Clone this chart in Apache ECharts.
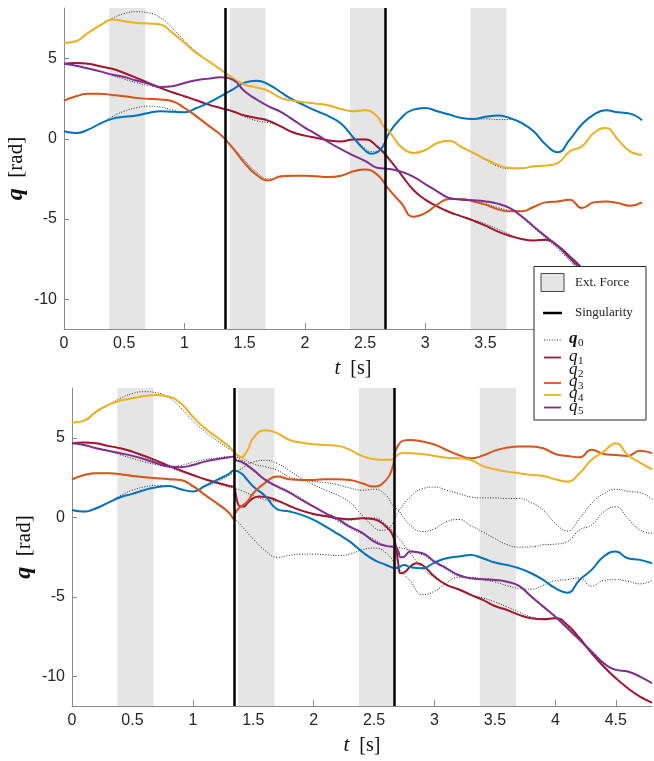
<!DOCTYPE html>
<html><head><meta charset="utf-8">
<script src="https://cdn.jsdelivr.net/npm/echarts@6/dist/echarts.min.js"></script>
<style>html,body{margin:0;padding:0;background:#fff}#c{width:654px;height:761px}</style>
</head><body><div id="c"></div>
<script>
// ---- axes / annotations ----
const xTicks = [0, 0.5, 1, 1.5, 2, 2.5, 3, 3.5, 4, 4.5];
const yTicks = [-10, -5, 0, 5];
const forceBands = [[0.375, 0.675], [1.375, 1.675], [2.375, 2.675], [3.375, 3.675]];
const singularities = [1.34, 2.675];
const jointNames = ['q1', 'q2', 'q3', 'q4', 'q5'];

// ---- reference trajectories q0 (one per joint), shown dotted in both panels ----
const q0_q1 = [[0,4.67],[0.1,4.73],[0.2,4.67],[0.3,4.52],[0.4,4.36],[0.5,4.1],[0.6,3.8],[0.7,3.48],[0.8,3.17],[0.9,2.9],[1.0,2.65],[1.1,2.4],[1.2,2.13],[1.3,1.92],[1.4,1.7],[1.5,1.38],[1.6,1.12],[1.7,1.0],[1.8,0.75],[1.9,0.41],[2.0,0.2],[2.1,0.05],[2.2,-0.1],[2.3,-0.16],[2.4,-0.05],[2.5,-0.02],[2.6,-0.45],[2.7,-1.26],[2.8,-2.23],[2.9,-3.17],[3.0,-3.79],[3.1,-4.21],[3.2,-4.56],[3.3,-4.83],[3.4,-5.05],[3.5,-5.3],[3.6,-5.62],[3.7,-5.95],[3.8,-6.24],[3.9,-6.35],[4.0,-6.31],[4.1,-6.72],[4.2,-7.5],[4.3,-8.45],[4.4,-9.3],[4.5,-10.05],[4.6,-10.7],[4.7,-11.22],[4.8,-11.6]];
const q0_q2 = [[0,0.47],[0.1,0.36],[0.2,0.57],[0.3,0.95],[0.4,1.38],[0.5,1.72],[0.6,1.93],[0.7,2.03],[0.8,1.98],[0.9,1.8],[1.0,1.66],[1.1,1.92],[1.2,2.24],[1.3,2.65],[1.4,3.07],[1.5,3.5],[1.6,3.6],[1.7,3.4],[1.8,2.95],[1.9,2.46],[2.0,2.07],[2.1,1.72],[2.2,1.4],[2.3,0.95],[2.4,0.15],[2.5,-0.6],[2.55,-0.8],[2.6,-0.76],[2.65,-0.42],[2.7,0.36],[2.8,1.3],[2.9,1.82],[3.0,1.92],[3.1,1.72],[3.2,1.51],[3.3,1.3],[3.4,1.24],[3.5,1.24],[3.6,1.2],[3.7,1.2],[3.8,0.95],[3.9,0.47],[4.0,-0.36],[4.1,-0.84],[4.2,-0.05],[4.3,0.89],[4.4,1.51],[4.5,1.78],[4.6,1.65],[4.7,1.57],[4.8,1.16]];
const q0_q3 = [[0,2.38],[0.1,2.65],[0.2,2.8],[0.3,2.8],[0.4,2.73],[0.5,2.65],[0.6,2.55],[0.7,2.49],[0.8,2.45],[0.9,2.34],[1.0,1.92],[1.1,1.4],[1.2,0.82],[1.3,0.26],[1.4,-0.5],[1.5,-1.35],[1.6,-2.08],[1.7,-2.5],[1.8,-2.38],[1.9,-2.3],[2.0,-2.3],[2.1,-2.34],[2.2,-2.38],[2.3,-2.3],[2.4,-2.03],[2.5,-1.92],[2.6,-2.23],[2.7,-3.17],[2.8,-4.0],[2.9,-4.85],[3.0,-4.63],[3.1,-4.1],[3.2,-3.75],[3.3,-3.75],[3.4,-3.9],[3.5,-4.05],[3.6,-4.28],[3.7,-4.45],[3.8,-4.5],[3.9,-4.25],[4.0,-3.96],[4.1,-3.9],[4.2,-3.79],[4.3,-4.31],[4.4,-3.96],[4.5,-3.9],[4.6,-4.0],[4.7,-4.17],[4.8,-3.96]];
const q0_q4 = [[0,5.98],[0.1,6.08],[0.2,6.6],[0.3,7.06],[0.4,7.5],[0.5,7.8],[0.6,7.92],[0.7,7.85],[0.8,7.55],[0.9,6.9],[1.0,6.1],[1.1,5.42],[1.2,4.84],[1.3,4.32],[1.4,3.79],[1.5,3.38],[1.6,3.2],[1.7,2.97],[1.8,2.55],[1.9,2.38],[2.0,2.27],[2.1,2.19],[2.2,2.07],[2.3,1.86],[2.4,1.72],[2.5,1.78],[2.6,1.4],[2.65,0.82],[2.7,0.47],[2.75,-0.05],[2.8,-0.5],[2.9,-0.88],[3.0,-0.7],[3.1,-0.26],[3.2,-0.12],[3.3,-0.51],[3.4,-0.9],[3.5,-1.32],[3.6,-1.7],[3.7,-1.86],[3.8,-1.84],[3.9,-1.71],[4.0,-1.67],[4.1,-1.51],[4.2,-0.78],[4.3,-0.47],[4.4,0.36],[4.5,0.68],[4.6,-0.05],[4.7,-0.78],[4.8,-0.99]];
const q0_q5 = [[0,4.67],[0.1,4.55],[0.2,4.38],[0.3,4.2],[0.4,3.95],[0.5,3.72],[0.6,3.5],[0.7,3.33],[0.8,3.22],[0.9,3.28],[1.0,3.48],[1.1,3.65],[1.2,3.75],[1.3,3.83],[1.4,3.65],[1.5,2.96],[1.6,2.42],[1.7,2.0],[1.8,1.65],[1.9,1.2],[2.0,0.7],[2.1,0.26],[2.2,-0.22],[2.3,-0.65],[2.4,-1.03],[2.5,-1.37],[2.6,-1.8],[2.7,-1.88],[2.8,-2.05],[2.9,-2.35],[3.0,-2.82],[3.1,-3.27],[3.2,-3.69],[3.3,-3.79],[3.4,-3.83],[3.5,-3.9],[3.6,-4.04],[3.7,-4.31],[3.8,-4.9],[3.9,-5.55],[4.0,-6.18],[4.1,-6.85],[4.2,-7.6],[4.3,-8.35],[4.4,-9.1],[4.5,-9.55],[4.6,-9.68],[4.7,-10.0],[4.8,-10.4]];

// ---- top panel: joint trajectories ----
const top_q1 = [[0,4.67],[0.1,4.73],[0.2,4.67],[0.3,4.52],[0.4,4.36],[0.5,4.1],[0.6,3.8],[0.7,3.48],[0.8,3.17],[0.9,2.9],[1.0,2.65],[1.1,2.4],[1.2,2.13],[1.3,1.92],[1.4,1.72],[1.5,1.45],[1.6,1.3],[1.7,1.12],[1.8,0.78],[1.9,0.41],[2.0,0.2],[2.1,0.05],[2.2,-0.1],[2.3,-0.16],[2.4,-0.05],[2.5,-0.05],[2.6,-0.47],[2.7,-1.26],[2.8,-2.23],[2.9,-3.17],[3.0,-3.79],[3.1,-4.21],[3.2,-4.56],[3.3,-4.83],[3.4,-5.1],[3.5,-5.41],[3.6,-5.77],[3.7,-6.04],[3.8,-6.24],[3.9,-6.33],[4.0,-6.29],[4.1,-6.66],[4.2,-7.33],[4.3,-8.06],[4.4,-9.0],[4.5,-9.8],[4.6,-10.5],[4.7,-11.1],[4.8,-11.5]];
const top_q2 = [[0,0.47],[0.1,0.36],[0.2,0.57],[0.3,0.95],[0.4,1.24],[0.5,1.37],[0.6,1.45],[0.7,1.61],[0.8,1.72],[0.9,1.68],[1.0,1.65],[1.1,1.92],[1.2,2.24],[1.3,2.65],[1.4,3.07],[1.5,3.5],[1.6,3.62],[1.7,3.38],[1.8,2.9],[1.9,2.44],[2.0,2.07],[2.1,1.72],[2.2,1.4],[2.3,0.95],[2.4,0.1],[2.5,-0.72],[2.55,-0.93],[2.6,-0.85],[2.65,-0.45],[2.7,0.36],[2.8,1.3],[2.9,1.82],[3.0,1.92],[3.1,1.72],[3.2,1.51],[3.3,1.3],[3.4,1.24],[3.5,1.37],[3.6,1.45],[3.7,1.3],[3.8,0.99],[3.9,0.47],[4.0,-0.36],[4.1,-0.84],[4.2,-0.05],[4.3,0.89],[4.4,1.51],[4.5,1.78],[4.6,1.65],[4.7,1.57],[4.8,1.16]];
const top_q3 = [[0,2.38],[0.1,2.65],[0.2,2.8],[0.3,2.8],[0.4,2.73],[0.5,2.65],[0.6,2.55],[0.7,2.49],[0.8,2.45],[0.9,2.34],[1.0,1.92],[1.1,1.4],[1.2,0.82],[1.3,0.26],[1.4,-0.57],[1.5,-1.51],[1.6,-2.25],[1.7,-2.59],[1.8,-2.34],[1.9,-2.3],[2.0,-2.3],[2.1,-2.34],[2.2,-2.38],[2.3,-2.3],[2.4,-2.03],[2.5,-1.92],[2.6,-2.23],[2.7,-3.17],[2.8,-4.0],[2.9,-4.85],[3.0,-4.63],[3.1,-4.1],[3.2,-3.75],[3.3,-3.75],[3.4,-3.9],[3.5,-4.1],[3.6,-4.38],[3.7,-4.52],[3.8,-4.52],[3.9,-4.25],[4.0,-3.96],[4.1,-3.9],[4.2,-3.79],[4.3,-4.31],[4.4,-3.96],[4.5,-3.9],[4.6,-4.0],[4.7,-4.17],[4.8,-3.96]];
const top_q4 = [[0,5.98],[0.1,6.08],[0.2,6.6],[0.3,7.06],[0.4,7.43],[0.5,7.33],[0.6,7.22],[0.7,7.18],[0.8,7.12],[0.9,6.6],[1.0,5.98],[1.1,5.35],[1.2,4.84],[1.3,4.32],[1.4,3.79],[1.5,3.38],[1.6,3.2],[1.7,2.97],[1.8,2.55],[1.9,2.38],[2.0,2.27],[2.1,2.19],[2.2,2.07],[2.3,1.86],[2.4,1.72],[2.5,1.78],[2.6,1.4],[2.65,0.82],[2.7,0.47],[2.75,-0.05],[2.8,-0.5],[2.9,-0.88],[3.0,-0.7],[3.1,-0.26],[3.2,-0.12],[3.3,-0.51],[3.4,-0.88],[3.5,-1.26],[3.6,-1.61],[3.7,-1.82],[3.8,-1.84],[3.9,-1.71],[4.0,-1.67],[4.1,-1.51],[4.2,-0.78],[4.3,-0.47],[4.4,0.36],[4.5,0.68],[4.6,-0.05],[4.7,-0.78],[4.8,-0.99]];
const top_q5 = [[0,4.67],[0.1,4.55],[0.2,4.38],[0.3,4.2],[0.4,4.0],[0.5,3.85],[0.6,3.63],[0.7,3.44],[0.8,3.23],[0.9,3.28],[1.0,3.48],[1.1,3.65],[1.2,3.75],[1.3,3.83],[1.4,3.69],[1.5,2.96],[1.6,2.45],[1.7,2.02],[1.8,1.68],[1.9,1.2],[2.0,0.7],[2.1,0.26],[2.2,-0.22],[2.3,-0.65],[2.4,-1.03],[2.5,-1.37],[2.6,-1.8],[2.7,-1.88],[2.8,-2.05],[2.9,-2.35],[3.0,-2.82],[3.1,-3.27],[3.2,-3.69],[3.3,-3.79],[3.4,-3.83],[3.5,-3.9],[3.6,-4.04],[3.7,-4.31],[3.8,-4.83],[3.9,-5.46],[4.0,-6.08],[4.1,-6.7],[4.2,-7.43],[4.3,-8.16],[4.4,-8.9],[4.5,-9.4],[4.6,-9.6],[4.7,-9.9],[4.8,-10.3]];

// ---- bottom panel: joint trajectories ----
const bot_q1 = [[0,4.67],[0.1,4.72],[0.2,4.67],[0.3,4.51],[0.4,4.36],[0.5,4.15],[0.6,3.88],[0.7,3.58],[0.8,3.25],[0.9,2.96],[1.0,2.68],[1.1,2.41],[1.2,2.2],[1.3,1.99],[1.34,1.91],[1.355,1.5],[1.37,0.95],[1.39,0.7],[1.42,0.69],[1.45,0.9],[1.5,1.22],[1.55,1.32],[1.6,1.3],[1.7,1.07],[1.8,0.73],[1.9,0.44],[2.0,0.23],[2.1,0.1],[2.2,-0.04],[2.3,-0.1],[2.4,-0.04],[2.5,-0.1],[2.6,-0.57],[2.65,-1.03],[2.68,-1.8],[2.7,-2.9],[2.72,-3.5],[2.75,-3.45],[2.8,-3.08],[2.85,-2.87],[2.9,-2.98],[3.0,-3.71],[3.1,-4.23],[3.2,-4.51],[3.3,-4.86],[3.4,-5.18],[3.5,-5.56],[3.6,-5.81],[3.7,-6.12],[3.8,-6.33],[3.9,-6.39],[4.0,-6.33],[4.1,-6.75],[4.2,-7.59],[4.3,-8.53],[4.4,-9.37],[4.5,-10.1],[4.6,-10.73],[4.7,-11.26],[4.8,-11.64]];
const bot_q2 = [[0,0.48],[0.1,0.38],[0.2,0.59],[0.3,0.94],[0.4,1.28],[0.5,1.49],[0.6,1.74],[0.7,1.91],[0.8,1.99],[0.9,1.78],[1.0,1.64],[1.1,1.99],[1.2,2.37],[1.3,2.75],[1.34,2.96],[1.4,2.79],[1.45,2.37],[1.5,1.95],[1.6,1.35],[1.7,0.52],[1.8,0.38],[1.9,0.17],[2.0,-0.15],[2.1,-0.57],[2.2,-1.03],[2.3,-1.51],[2.4,-2.14],[2.5,-2.66],[2.6,-2.98],[2.68,-3.19],[2.75,-2.98],[2.8,-3.12],[2.9,-3.19],[3.0,-2.83],[3.1,-2.56],[3.2,-2.45],[3.3,-2.35],[3.4,-2.56],[3.5,-2.83],[3.6,-2.98],[3.7,-3.19],[3.8,-3.5],[3.9,-3.92],[4.0,-4.44],[4.1,-4.72],[4.2,-3.92],[4.3,-3.29],[4.4,-2.45],[4.5,-2.14],[4.6,-2.56],[4.7,-2.66],[4.8,-2.87]];
const bot_q3 = [[0,2.41],[0.1,2.68],[0.2,2.79],[0.3,2.79],[0.4,2.73],[0.5,2.62],[0.6,2.54],[0.7,2.47],[0.8,2.41],[0.9,2.37],[1.0,1.99],[1.1,1.43],[1.2,0.9],[1.3,0.31],[1.34,-0.1],[1.35,0.27],[1.38,0.59],[1.45,1.0],[1.5,1.53],[1.6,2.2],[1.7,2.58],[1.8,2.41],[1.9,2.37],[2.0,2.37],[2.1,2.41],[2.2,2.41],[2.3,2.37],[2.4,2.16],[2.5,1.95],[2.6,2.37],[2.65,3.1],[2.7,4.57],[2.8,4.88],[2.9,4.78],[3.0,4.6],[3.1,4.25],[3.2,3.94],[3.3,3.73],[3.4,3.9],[3.5,4.21],[3.6,4.4],[3.7,4.47],[3.8,4.47],[3.9,4.36],[4.0,4.0],[4.1,3.88],[4.2,3.79],[4.3,4.26],[4.4,4.0],[4.5,3.94],[4.6,3.88],[4.7,4.21],[4.8,4.05]];
const bot_q4 = [[0,5.97],[0.1,6.1],[0.2,6.67],[0.3,7.09],[0.4,7.36],[0.5,7.5],[0.6,7.65],[0.7,7.71],[0.8,7.61],[0.9,7.19],[1.0,6.35],[1.1,5.62],[1.2,5.05],[1.3,4.47],[1.34,4.15],[1.4,3.79],[1.45,4.2],[1.5,5.0],[1.6,5.5],[1.7,5.3],[1.8,4.88],[1.9,4.72],[2.0,4.61],[2.1,4.57],[2.2,4.51],[2.3,4.26],[2.4,3.88],[2.5,3.67],[2.6,3.63],[2.65,3.65],[2.7,3.98],[2.75,4.07],[2.8,4.05],[2.9,4.0],[3.0,3.88],[3.1,3.77],[3.2,3.73],[3.3,3.63],[3.4,3.25],[3.5,3.04],[3.6,2.89],[3.7,2.79],[3.8,2.68],[3.9,2.62],[4.0,2.41],[4.1,2.26],[4.2,2.79],[4.3,3.63],[4.4,4.15],[4.5,4.68],[4.6,3.94],[4.7,3.46],[4.8,3.04]];
const bot_q5 = [[0,4.67],[0.1,4.57],[0.2,4.36],[0.3,4.21],[0.4,4.05],[0.5,3.88],[0.6,3.67],[0.7,3.42],[0.8,3.21],[0.9,3.17],[1.0,3.31],[1.1,3.52],[1.2,3.67],[1.3,3.79],[1.34,3.84],[1.36,3.6],[1.4,3.52],[1.5,3.0],[1.6,2.37],[1.7,1.95],[1.8,1.57],[1.9,1.11],[2.0,0.69],[2.1,0.27],[2.2,-0.1],[2.3,-0.57],[2.4,-0.94],[2.5,-1.51],[2.6,-1.78],[2.68,-1.87],[2.7,-2.1],[2.72,-2.5],[2.75,-2.45],[2.8,-2.14],[2.9,-2.24],[3.0,-2.77],[3.1,-3.19],[3.2,-3.61],[3.3,-3.82],[3.4,-3.88],[3.5,-3.92],[3.6,-4.03],[3.7,-4.3],[3.8,-4.97],[3.9,-5.6],[4.0,-6.23],[4.1,-6.96],[4.2,-7.69],[4.3,-8.43],[4.4,-9.16],[4.5,-9.58],[4.6,-9.68],[4.7,-10.0],[4.8,-10.42]];

const colors = ['#A2142F', '#0072BD', '#D95319', '#EDB120', '#7E2F8E'];
const refSets = [q0_q1, q0_q2, q0_q3, q0_q4, q0_q5];
const panels = [[top_q1, top_q2, top_q3, top_q4, top_q5], [bot_q1, bot_q2, bot_q3, bot_q4, bot_q5]];

const chart = echarts.init(document.getElementById('c'), null, {renderer: 'canvas'});
const SANS = '"Liberation Sans", Arial, Helvetica, sans-serif';
const SERIF = '"Liberation Serif", "Times New Roman", serif';

function xAxisFor(i) {
  return {
    type: 'value', gridIndex: i, min: 0, max: 4.8,
    axisLine: {show: true, onZero: false, lineStyle: {color: '#8a8a8a', width: 1}},
    axisTick: {show: true, inside: true, length: 6, customValues: xTicks, lineStyle: {color: '#8a8a8a'}},
    axisLabel: {customValues: xTicks, color: '#262626', fontSize: 16, fontFamily: SANS, margin: 7},
    splitLine: {show: false},
    name: '{t|t}{r|  [s]}', nameLocation: 'middle', nameGap: 29,
    nameTextStyle: {rich: {t: {fontFamily: SERIF, fontStyle: 'italic', fontSize: 21, color: '#111'}, r: {fontFamily: SERIF, fontSize: 20, color: '#111'}}}
  };
}
function yAxisFor(i) {
  return {
    type: 'value', gridIndex: i, min: -11.85, max: 8.15,
    axisLine: {show: true, onZero: false, lineStyle: {color: '#8a8a8a', width: 1}},
    axisTick: {show: true, inside: true, length: 5, customValues: yTicks, lineStyle: {color: '#8a8a8a'}},
    axisLabel: {customValues: yTicks, color: '#262626', fontSize: 16, fontFamily: SANS, margin: 7},
    splitLine: {show: false},
    name: '{q|q}{r|  [rad]}', nameLocation: 'middle', nameGap: 36, nameRotate: 90,
    nameMoveOverlap: false,
    nameTextStyle: {rich: {q: {fontFamily: SERIF, fontStyle: 'italic', fontWeight: 'bold', fontSize: 24, color: '#111'}, r: {fontFamily: SERIF, fontSize: 21, color: '#111'}}}
  };
}

const series = [];
for (let g = 0; g < 2; g++) {
  refSets.forEach((ref, k) => {
    const s = {
      type: 'line', name: 'q0', xAxisIndex: g, yAxisIndex: g, data: ref,
      showSymbol: false, smooth: 0.5, silent: true,
      lineStyle: {color: '#2a2a2a', width: 1, type: [1, 1.6]}, z: 2
    };
    if (k === 0) {
      s.markArea = {silent: true, itemStyle: {color: '#e5e5e5'},
        data: forceBands.map(b => [{xAxis: b[0]}, {xAxis: b[1]}])};
      s.markLine = {silent: true, symbol: ['none', 'none'], label: {show: false},
        lineStyle: {color: '#000', width: 2.5, type: 'solid'},
        data: singularities.map(v => ({xAxis: v}))};
    }
    series.push(s);
  });
  panels[g].forEach((d, k) => {
    series.push({
      type: 'line', name: jointNames[k], xAxisIndex: g, yAxisIndex: g, data: d,
      showSymbol: false, smooth: 0.5, silent: true,
      lineStyle: {color: colors[k], width: 2}, z: 3
    });
  });
}

// legend (drawn as graphic so it can span both panels like the original)
const LZ = 100;
const legendItems = [];
legendItems.push({type: 'rect', z: LZ, shape: {x: 534, y: 266.5, width: 112, height: 153.5}, style: {fill: '#fff', stroke: '#2b2b2b', lineWidth: 1}});
legendItems.push({type: 'rect', z: LZ + 1, shape: {x: 541, y: 273.5, width: 23, height: 18}, style: {fill: '#e5e5e5', stroke: '#444', lineWidth: 1}});
legendItems.push({type: 'text', z: LZ + 1, x: 575, y: 283, style: {text: 'Ext. Force', font: '13px ' + SERIF, fill: '#222', verticalAlign: 'middle'}});
legendItems.push({type: 'line', z: LZ + 1, shape: {x1: 543, y1: 313, x2: 562, y2: 313}, style: {stroke: '#000', lineWidth: 2.5}});
legendItems.push({type: 'text', z: LZ + 1, x: 575, y: 313, style: {text: 'Singularity', font: '13px ' + SERIF, fill: '#222', verticalAlign: 'middle'}});
const legRows = [
  {sub: '0', y: 340, color: '#2a2a2a', dash: [1, 1.6], bold: true},
  {sub: '1', y: 357.5, color: colors[0]},
  {sub: '2', y: 370.5, color: null},
  {sub: '3', y: 383, color: colors[2]},
  {sub: '4', y: 395, color: colors[3]},
  {sub: '5', y: 407.5, color: colors[4]}
];
legRows.forEach(r => {
  if (r.color) {
    legendItems.push({type: 'line', z: LZ + 1, shape: {x1: 544, y1: r.y, x2: 561, y2: r.y},
      style: {stroke: r.color, lineWidth: r.dash ? 1 : 1.8, lineDash: r.dash || null}});
  }
  legendItems.push({type: 'text', z: LZ + 2, x: 569, y: r.y - 1, style: {text: 'q', font: (r.bold ? 'italic bold ' : 'italic ') + '17px ' + SERIF, fill: '#111', verticalAlign: 'middle'}});
  legendItems.push({type: 'text', z: LZ + 2, x: 578, y: r.y + 3.5, style: {text: r.sub, font: '11px ' + SERIF, fill: '#111', verticalAlign: 'middle'}});
});

chart.setOption({
  animation: false,
  backgroundColor: '#fff',
  grid: [
    {left: 64, top: 8, width: 578, height: 321, containLabel: false, outerBoundsMode: 'none'},
    {left: 72, top: 388, width: 580, height: 318, containLabel: false, outerBoundsMode: 'none'}
  ],
  xAxis: [xAxisFor(0), xAxisFor(1)],
  yAxis: [yAxisFor(0), yAxisFor(1)],
  series: series,
  graphic: legendItems
});
</script></body></html>
